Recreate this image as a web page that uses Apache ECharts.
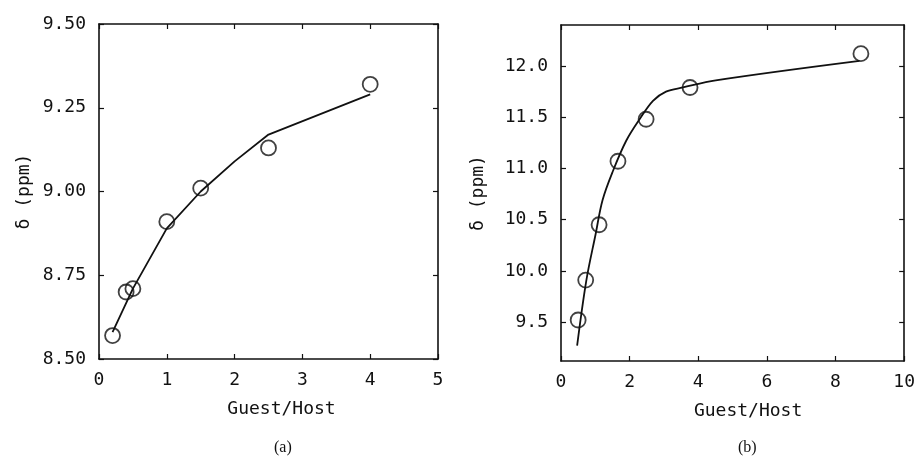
<!DOCTYPE html>
<html>
<head>
<meta charset="utf-8">
<script src="https://cdn.jsdelivr.net/npm/echarts@6/dist/echarts.min.js"></script>
<style>
  html, body { margin: 0; padding: 0; background: #fff; }
  #chart { width: 918px; height: 467px; }
</style>
</head>
<body>
<div id="chart"></div>
<script>
// panel (a): measured points and fitted curve
var ratioA = [0.2, 0.4, 0.5, 1.0, 1.5, 2.5, 4.0];
var shiftA = [8.57, 8.70, 8.71, 8.91, 9.01, 9.13, 9.32];
var fitXA = [0.2, 0.5, 1.0, 1.5, 2.0, 2.5, 4.0];
var fitYA = [8.58, 8.71, 8.89, 9.00, 9.09, 9.17, 9.29];

// panel (b)
var ratioB = [0.50, 0.72, 1.11, 1.66, 2.48, 3.76, 8.74];
var shiftB = [9.52, 9.91, 10.45, 11.07, 11.48, 11.79, 12.12];
var fitXB = [0.47, 0.74, 1.01, 1.21, 1.52, 1.90, 2.29, 2.68, 3.06, 3.55, 4.51, 8.70];
var fitYB = [9.27, 9.91, 10.36, 10.69, 10.98, 11.27, 11.48, 11.66, 11.75, 11.79, 11.86, 12.05];
var ticksYB = [9.5, 10.0, 10.5, 11.0, 11.5, 12.0];

function pairs(xs, ys) {
    return xs.map(function (x, i) { return [x, ys[i]]; });
}

var chart = echarts.init(document.getElementById('chart'));

var labelFont = { color: '#111', fontSize: 18, fontFamily: 'DejaVu Sans Mono' };
var frame = { show: true, onZero: false, lineStyle: { color: '#111', width: 1.6 } };
var tick = { show: true, inside: true, length: 5, lineStyle: { color: '#111', width: 1.2 } };

// bottom/left axes carry labels, top/right axes only close the box
function xMain(grid, max, step, pad) {
    return {
        gridIndex: grid, type: 'value', min: 0, max: max, interval: step, position: 'bottom',
        axisLine: frame, axisTick: tick, splitLine: { show: false },
        axisLabel: Object.assign({ margin: 12 }, labelFont),
        name: 'Guest/Host', nameLocation: 'middle', nameGap: 41,
        nameTextStyle: Object.assign({ padding: [0, 0, 0, pad] }, labelFont)
    };
}
function xTop(grid, max, step) {
    return {
        gridIndex: grid, type: 'value', min: 0, max: max, interval: step, position: 'top',
        axisLine: frame, axisTick: tick, axisLabel: { show: false }, splitLine: { show: false }
    };
}

var option = {
    animation: false,
    backgroundColor: '#fff',
    grid: [
        { left: 99, right: 480, top: 24, bottom: 108 },
        { left: 561, right: 12, top: 25, bottom: 106 }
    ],
    xAxis: [
        xMain(0, 5, 1, 26), xTop(0, 5, 1),
        xMain(1, 10, 2, 31), xTop(1, 10, 2)
    ],
    yAxis: [
        {
            gridIndex: 0, type: 'value', min: 8.5, max: 9.5, interval: 0.25, position: 'left',
            axisLine: frame, axisTick: tick, splitLine: { show: false },
            axisLabel: Object.assign({ margin: 13, formatter: function (v) { return v.toFixed(2); } }, labelFont),
            name: 'δ (ppm)', nameLocation: 'middle', nameGap: 66, nameTextStyle: labelFont
        },
        {
            gridIndex: 0, type: 'value', min: 8.5, max: 9.5, interval: 0.25, position: 'right',
            axisLine: frame, axisTick: tick, axisLabel: { show: false }, splitLine: { show: false }
        },
        {
            gridIndex: 1, type: 'value', min: 9.12, max: 12.4, position: 'left',
            axisLine: frame, splitLine: { show: false },
            axisTick: Object.assign({ customValues: ticksYB }, tick),
            axisLabel: Object.assign({ margin: 13, customValues: ticksYB,
                formatter: function (v) { return v.toFixed(1); } }, labelFont),
            name: 'δ (ppm)', nameLocation: 'middle', nameGap: 74, nameTextStyle: labelFont
        },
        {
            gridIndex: 1, type: 'value', min: 9.12, max: 12.4, position: 'right',
            axisLine: frame, splitLine: { show: false },
            axisTick: Object.assign({ customValues: ticksYB }, tick),
            axisLabel: { show: false }
        }
    ],
    series: [
        {
            type: 'line', xAxisIndex: 0, yAxisIndex: 0, data: pairs(fitXA, fitYA),
            showSymbol: false, lineStyle: { color: '#111', width: 1.8 }
        },
        {
            type: 'scatter', xAxisIndex: 0, yAxisIndex: 0, data: pairs(ratioA, shiftA),
            symbol: 'circle', symbolSize: 15,
            itemStyle: { color: 'rgba(0,0,0,0)', borderColor: '#111', borderWidth: 1.8 }
        },
        {
            type: 'line', xAxisIndex: 2, yAxisIndex: 2, data: pairs(fitXB, fitYB),
            showSymbol: false, smooth: 0.35,
            lineStyle: { color: '#111', width: 1.8 }
        },
        {
            type: 'scatter', xAxisIndex: 2, yAxisIndex: 2, data: pairs(ratioB, shiftB),
            symbol: 'circle', symbolSize: 15,
            itemStyle: { color: 'rgba(0,0,0,0)', borderColor: '#111', borderWidth: 1.8 }
        }
    ],
    graphic: [
        { type: 'text', left: 274, top: 440, style: { text: '(a)', font: '16px "Liberation Serif"', fill: '#111' } },
        { type: 'text', left: 738, top: 440, style: { text: '(b)', font: '16px "Liberation Serif"', fill: '#111' } }
    ]
};

chart.setOption(option);
</script>
</body>
</html>
